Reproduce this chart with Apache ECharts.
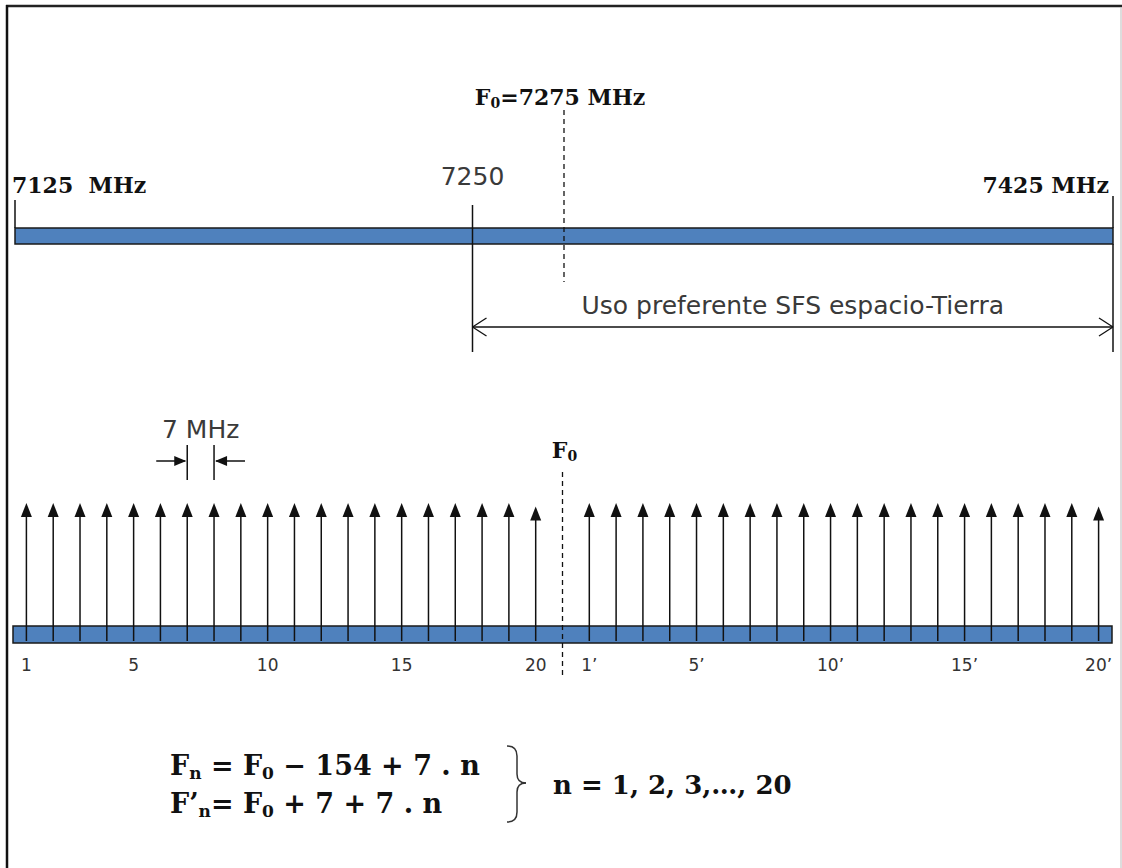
<!DOCTYPE html>
<html><head><meta charset="utf-8">
<script src="https://cdn.jsdelivr.net/npm/echarts@6/dist/echarts.min.js"></script>
<style>html,body{margin:0;padding:0;background:#fff}#c{width:1122px;height:868px}</style>
</head><body><div id="c"></div>
<script>
// ---- data ----
const bandEdges = [7125, 7425];            // MHz, band limits
const centerFreq = 7275;                   // F0, MHz
const preferredRange = [7250, 7425];       // preferred SFS space-Earth use
const lowerChannels = ['1','2','3','4','5','6','7','8','9','10','11','12','13','14','15','16','17','18','19','20'];
const upperChannels = ['1\u2019','2\u2019','3\u2019','4\u2019','5\u2019','6\u2019','7\u2019','8\u2019','9\u2019','10\u2019','11\u2019','12\u2019','13\u2019','14\u2019','15\u2019','16\u2019','17\u2019','18\u2019','19\u2019','20\u2019'];
const lowerLevels = [1,1,1,1,1,1,1,1,1,1,1,1,1,1,1,1,1,1,1,0.975];
const upperLevels = [1,1,1,1,1,1,1,1,1,1,1,1,1,1,1,1,1,1,1,0.975];
const shownTicks = ['1','5','10','15','20','1\u2019','5\u2019','10\u2019','15\u2019','20\u2019'];
const spacingPair = ['7','8'];             // channels used to show the 7 MHz spacing
const spacingLabel = '7 MHz';

const categories = lowerChannels.concat(['F0'], upperChannels);

const BOLD = 'bold 22px "DejaVu Serif"';
const SANS = '25px "DejaVu Sans"';
const INK = '#111';
const GREY = '#3a3a3a';
const BLUE = '#4f81bd';

const chart = echarts.init(document.getElementById('c'), null, {renderer: 'svg'});

function line(x1, y1, x2, y2, w, dash, color) {
  return {type: 'line', shape: {x1, y1, x2, y2},
    style: {stroke: color || '#111', lineWidth: w || 1.5, lineDash: dash || null}};
}
function curve(x1, y1, cpx1, cpy1, cpx2, cpy2, x2, y2) {
  return {type: 'bezierCurve', silent: true, shape: {x1, y1, cpx1, cpy1, cpx2, cpy2, x2, y2},
    style: {fill: null, stroke: '#333', lineWidth: 1.5}};
}
const SUB = {font: 'bold 14px "DejaVu Serif"', fill: INK, verticalAlign: 'bottom', padding: [12, 0, 0, 0]};
const SUB_BIG = {font: 'bold 17px "DejaVu Serif"', fill: INK, verticalAlign: 'bottom', padding: [16, 0, 0, 0]};

const option = {
  animation: false,
  backgroundColor: '#fff',
  grid: [
    {left: 15, right: 9, top: 228, height: 16},
    {left: 13, right: 10, top: 503, height: 140}
  ],
  xAxis: [
    {gridIndex: 0, type: 'value', min: bandEdges[0], max: bandEdges[1], show: false},
    {gridIndex: 1, type: 'category', data: categories, boundaryGap: true,
      axisLine: {show: false}, axisTick: {show: false}, splitLine: {show: false},
      axisLabel: {
        interval: (i, v) => shownTicks.indexOf(v) >= 0,
        color: '#333', fontSize: 17, fontFamily: 'DejaVu Sans', margin: 13
      }}
  ],
  yAxis: [
    {gridIndex: 0, type: 'value', min: 0, max: 1, show: false},
    {gridIndex: 1, type: 'value', min: 0, max: 1, show: false}
  ],
  series: [
    // upper band
    {type: 'custom', xAxisIndex: 0, yAxisIndex: 0, clip: false, z: 2,
      data: [[bandEdges[0], bandEdges[1]]],
      renderItem: (p, api) => {
        const a = api.coord([api.value(0), 1]);
        const b = api.coord([api.value(1), 0]);
        return {type: 'rect', shape: {x: a[0], y: a[1], width: b[0] - a[0], height: b[1] - a[1]},
          style: {fill: BLUE, stroke: '#1a1a1a', lineWidth: 1.5}};
      }},
    // band edges with labels
    {type: 'custom', xAxisIndex: 0, yAxisIndex: 0, clip: false, z: 3,
      data: bandEdges.map(f => [f]),
      renderItem: (p, api) => {
        const top = api.coord([api.value(0), 1]);
        const bot = api.coord([api.value(0), 0]);
        const x = top[0];
        const left = p.dataIndex === 0;
        const txt = left ? api.value(0) + '  MHz' : api.value(0) + ' MHz';
        const children = [
          left ? line(x, top[1] - 28, x, top[1], 1.5) : line(x, top[1] - 32, x, top[1], 1.5),
          {type: 'text', x: left ? x - 3 : x - 4, y: top[1] - 43,
            style: {text: txt, font: BOLD, fill: INK, align: left ? 'left' : 'right', verticalAlign: 'middle'}}
        ];
        if (!left) children.push(line(x, bot[1], x, bot[1] + 108, 1.5));
        return {type: 'group', children};
      }},
    // preferred range
    {type: 'custom', xAxisIndex: 0, yAxisIndex: 0, clip: false, z: 3,
      data: [[preferredRange[0], preferredRange[1]]],
      renderItem: (p, api) => {
        const a = api.coord([api.value(0), 1]);
        const b = api.coord([api.value(1), 0]);
        const x0 = a[0], x1 = b[0];
        const yt = a[1], yb = b[1];
        const ya = yb + 83;
        return {type: 'group', children: [
          line(x0, yt - 23, x0, yb + 108, 1.5),
          line(x0, ya, x1, ya, 1.3),
          line(x0, ya, x0 + 14, ya - 9, 1.3),
          line(x0, ya, x0 + 14, ya + 9, 1.3),
          line(x1, ya, x1 - 14, ya - 9, 1.3),
          line(x1, ya, x1 - 14, ya + 9, 1.3),
          {type: 'text', x: x0, y: yt - 52,
            style: {text: String(api.value(0)), font: SANS, fill: GREY, align: 'center', verticalAlign: 'middle'}},
          {type: 'text', x: (x0 + x1) / 2, y: yb + 61,
            style: {text: 'Uso preferente SFS espacio-Tierra', font: SANS, fill: GREY, align: 'center', verticalAlign: 'middle'}}
        ]};
      }},
    // F0 marker (upper)
    {type: 'custom', xAxisIndex: 0, yAxisIndex: 0, clip: false, z: 4,
      data: [[centerFreq]],
      renderItem: (p, api) => {
        const t = api.coord([api.value(0), 1]);
        const b = api.coord([api.value(0), 0]);
        return {type: 'group', children: [
          line(t[0], t[1] - 118, t[0], b[1] + 38, 1.3, [5, 4]),
          {type: 'text', x: t[0] - 4, y: t[1] - 131,
            style: {text: 'F{s|0}=' + api.value(0) + ' MHz', font: BOLD, fill: INK, align: 'center', verticalAlign: 'middle',
              rich: {s: SUB}}}
        ]};
      }},
    // lower band
    {type: 'custom', xAxisIndex: 1, yAxisIndex: 1, clip: false, z: 2,
      data: [[0, categories.length - 1]],
      renderItem: (p, api) => {
        const w = api.size([1, 0])[0];
        const a = api.coord([api.value(0), 0]);
        const b = api.coord([api.value(1), 0]);
        return {type: 'rect', shape: {x: a[0] - w / 2, y: a[1] - 17, width: b[0] - a[0] + w, height: 17},
          style: {fill: BLUE, stroke: '#1a1a1a', lineWidth: 1.5}};
      }},
    // channel arrows
    {type: 'custom', xAxisIndex: 1, yAxisIndex: 1, clip: false, z: 5,
      data: lowerChannels.map((c, i) => [c, lowerLevels[i]]).concat(upperChannels.map((c, i) => [c, upperLevels[i]])),
      renderItem: (p, api) => {
        const b = api.coord([api.value(0), 0]);
        const t = api.coord([api.value(0), api.value(1)]);
        const x = b[0];
        return {type: 'group', children: [
          line(x, b[1] - 2, x, t[1] + 10, 1.5),
          {type: 'polygon', shape: {points: [[x, t[1]], [x - 5.5, t[1] + 14], [x + 5.5, t[1] + 14]]}, style: {fill: '#111'}}
        ]};
      }},
    // F0 marker (lower)
    {type: 'custom', xAxisIndex: 1, yAxisIndex: 1, clip: false, z: 4,
      data: [['F0', 1]],
      renderItem: (p, api) => {
        const t = api.coord([api.value(0), 1]);
        const b = api.coord([api.value(0), 0]);
        return {type: 'group', children: [
          line(t[0], t[1] - 31, t[0], b[1] + 33, 1.3, [5, 4]),
          {type: 'text', x: t[0] + 2, y: t[1] - 53,
            style: {text: 'F{s|0}', font: BOLD, fill: INK, align: 'center', verticalAlign: 'middle',
              rich: {s: SUB}}}
        ]};
      }},
    // 7 MHz spacing annotation
    {type: 'custom', xAxisIndex: 1, yAxisIndex: 1, clip: false, z: 4,
      data: [[spacingPair[0], 1], [spacingPair[1], 1]],
      renderItem: (p, api) => {
        const t = api.coord([api.value(0), 1]);
        const x = t[0];
        const ya = t[1] - 42;
        const first = p.dataIndex === 0;
        const dir = first ? -1 : 1;
        const children = [
          line(x, t[1] - 58, x, t[1] - 23, 1.5),
          line(x + dir * 31, ya, x + dir * 2, ya, 1.5),
          {type: 'polygon', shape: {points: [[x + dir * 1, ya], [x + dir * 13, ya - 5], [x + dir * 13, ya + 5]]}, style: {fill: '#111'}}
        ];
        if (!first) {
          const w = api.size([1, 0])[0];
          children.push({type: 'text', x: x - w / 2, y: t[1] - 74,
            style: {text: spacingLabel, font: SANS, fill: GREY, align: 'center', verticalAlign: 'middle'}});
        }
        return {type: 'group', children};
      }}
  ],
  graphic: [
    {type: 'line', shape: {x1: 6, y1: 6, x2: 1122, y2: 6}, style: {stroke: '#222', lineWidth: 2.5}, silent: true},
    {type: 'line', shape: {x1: 7, y1: 5, x2: 7, y2: 868}, style: {stroke: '#111', lineWidth: 2.5}, silent: true},
    {type: 'line', shape: {x1: 1121, y1: 7, x2: 1121, y2: 868}, style: {stroke: '#bbb', lineWidth: 1}, silent: true},
    {type: 'text', x: 170, y: 765, silent: true,
      style: {text: 'F{s|n} = F{s|0} \u2212 154 + 7 . n', font: 'bold 27px "DejaVu Serif"', fill: INK, verticalAlign: 'middle',
        rich: {s: SUB_BIG}}},
    {type: 'text', x: 170, y: 803, silent: true,
      style: {text: 'F\u2019{s|n}= F{s|0} + 7 + 7 . n', font: 'bold 27px "DejaVu Serif"', fill: INK, verticalAlign: 'middle',
        rich: {s: SUB_BIG}}},
    curve(507, 746, 514, 746, 517, 749, 517, 756),
    {type: 'line', silent: true, shape: {x1: 517, y1: 756, x2: 517, y2: 774}, style: {stroke: '#333', lineWidth: 1.5}},
    curve(517, 774, 517, 780, 520, 783, 526, 783),
    curve(526, 783, 520, 783, 517, 786, 517, 792),
    {type: 'line', silent: true, shape: {x1: 517, y1: 792, x2: 517, y2: 812}, style: {stroke: '#333', lineWidth: 1.5}},
    curve(517, 812, 517, 819, 514, 822, 507, 822),
    {type: 'text', x: 553, y: 785, silent: true,
      style: {text: 'n = 1, 2, 3,\u2026, 20', font: 'bold 26px "DejaVu Serif"', fill: INK, verticalAlign: 'middle'}}
  ]
};
chart.setOption(option);
</script></body></html>
